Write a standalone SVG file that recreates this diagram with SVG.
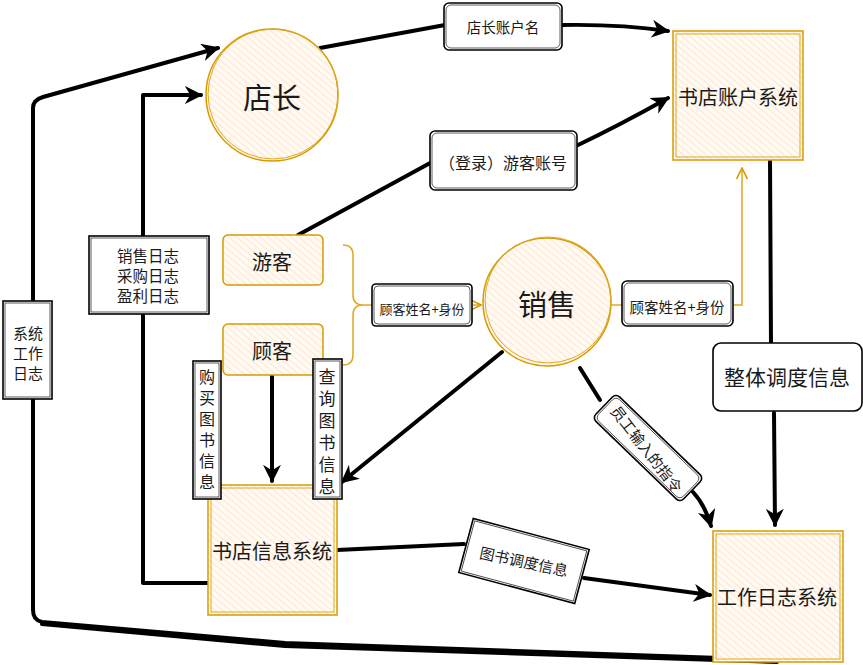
<svg xmlns="http://www.w3.org/2000/svg" width="863" height="665" viewBox="0 0 863 665">
<defs>
<pattern id="hatch" patternUnits="userSpaceOnUse" width="5" height="5" patternTransform="rotate(-50)">
<rect width="5" height="5" fill="#fffaf4"/>
<line x1="0" y1="0" x2="0" y2="5" stroke="#ffe2c2" stroke-width="1.6"/>
</pattern>
<marker id="arr" viewBox="0 0 10 10" refX="9" refY="5" markerWidth="4.5" markerHeight="4.5" orient="auto" markerUnits="strokeWidth">
<path d="M0 0 L10 5 L0 10 L3 5 Z" fill="#000"/>
</marker>
<marker id="oarr" viewBox="0 0 10 10" refX="9" refY="5" markerWidth="9" markerHeight="9" orient="auto" markerUnits="strokeWidth">
<path d="M1 1 L9 5 L1 9" fill="none" stroke="#d79b00" stroke-width="1.2"/>
</marker>
</defs>
<style>
text{font-family:"Noto Sans CJK SC","Noto Sans",sans-serif;fill:#1a1a1a;text-anchor:middle;dominant-baseline:central}
.v{writing-mode:vertical-rl;text-orientation:upright;dominant-baseline:auto}
.sys{fill:url(#hatch);stroke:#d79b00;stroke-width:1.5}
.sys2{fill:none;stroke:#e0a820;stroke-width:1}
.lbl{fill:#fff;stroke:#000;stroke-width:1.6}
.lbl2{fill:none;stroke:#333;stroke-width:0.8}
.c{fill:none;stroke:#000;stroke-width:4;stroke-linecap:round;stroke-linejoin:round}
.o{fill:none;stroke:#e0a820;stroke-width:1.5}
</style>
<g id="connectors">
<path class="c" d="M777 660 L285 643 L42 622 Q33 620 33 610 L33 108 Q33 100 43 97 L218 48" marker-end="url(#arr)"/>
<path class="c" d="M777 662 L285 646 L42 624" stroke-width="2.5"/>
<path class="c" d="M208 583 L143 583 L143 95 L201 95" marker-end="url(#arr)"/>
<path class="c" d="M320 48 L445 25"/>
<path class="c" d="M562 25 Q620 24 668 31" marker-end="url(#arr)"/>
<path class="c" d="M298 235 L432 162" stroke-width="3"/>
<path class="c" d="M576 146 Q620 125 668 98" marker-end="url(#arr)"/>
<path class="c" d="M770 160 L771 345"/>
<path class="c" d="M774 413 L775 525" marker-end="url(#arr)"/>
<path class="c" d="M272 376 L272 481" marker-end="url(#arr)"/>
<path class="c" d="M502 352 L342 482" marker-end="url(#arr)"/>
<path class="c" d="M580 368 L600 400"/>
<path class="c" d="M693 492 Q705 505 711 526" marker-end="url(#arr)"/>
<path class="c" d="M337 550 L464 544"/>
<path class="c" d="M584 578 L710 595" marker-end="url(#arr)"/>
<path class="o" d="M343 245 Q353 245 353 255 L353 295 Q353 305 363 305 Q353 305 353 315 L353 355 Q353 365 343 365"/>
<path class="o" d="M363 305 L372 305"/>
<path class="o" d="M473 305 L481 305" marker-end="url(#oarr)"/>
<path class="o" d="M582 305 L622 305"/>
<path class="o" d="M734 305 L742 305 L742 168" marker-end="url(#oarr)"/>
</g>
<g id="dianzhang">
<circle class="sys" cx="272" cy="95" r="66"/>
<circle class="sys2" cx="273" cy="94" r="65"/>
<text x="272" y="96" font-size="29">店长</text>
</g>
<g id="xiaoshou">
<circle class="sys" cx="547" cy="302" r="64"/>
<circle class="sys2" cx="548" cy="300" r="63"/>
<text x="547" y="303" font-size="29">销售</text>
</g>
<g id="shudian-zhanghu">
<rect class="sys" x="673" y="31" width="130" height="129"/>
<rect class="sys2" x="676" y="34" width="124" height="123"/>
<text x="738" y="96" font-size="20">书店账户系统</text>
</g>
<g id="shudian-xinxi">
<rect class="sys" x="208" y="485" width="129" height="130"/>
<rect class="sys2" x="211" y="488" width="123" height="124"/>
<text x="272" y="550" font-size="20">书店信息系统</text>
</g>
<g id="gongzuo-rizhi">
<rect class="sys" x="713" y="531" width="130" height="131"/>
<rect class="sys2" x="716" y="534" width="124" height="125"/>
<text x="777" y="596" font-size="20">工作日志系统</text>
</g>
<g id="youke">
<rect class="sys" x="223" y="235" width="100" height="50" rx="5"/>
<text x="272" y="261" font-size="20">游客</text>
</g>
<g id="guke">
<rect class="sys" x="223" y="324" width="100" height="51" rx="5"/>
<text x="272" y="350" font-size="20">顾客</text>
</g>
<g id="l-dianzhang-zhanghu">
<rect class="lbl" x="444" y="3" width="118" height="47" rx="5"/>
<rect class="lbl2" x="446" y="5" width="114" height="43" rx="5"/>
<text x="503" y="26" font-size="14.5">店长账户名</text>
</g>
<g id="l-denglu">
<rect class="lbl" x="430" y="131" width="147" height="59" rx="5"/>
<rect class="lbl2" x="432" y="133" width="143" height="55" rx="5"/>
<text x="503" y="162" font-size="16">（登录）游客账号</text>
</g>
<g id="l-guke-left">
<rect class="lbl" x="372" y="284" width="100" height="42" rx="4"/>
<rect class="lbl2" x="374" y="286" width="96" height="38" rx="4"/>
<text x="422" y="308" font-size="13">顾客姓名+身份</text>
</g>
<g id="l-guke-right">
<rect class="lbl" x="622" y="281" width="111" height="45" rx="5"/>
<rect class="lbl2" x="624" y="283" width="107" height="41" rx="5"/>
<text x="677" y="306" font-size="14.5">顾客姓名+身份</text>
</g>
<g id="l-zhengti">
<rect class="lbl" x="713" y="343" width="149" height="68" rx="8"/>
<text x="787" y="376" font-size="21">整体调度信息</text>
</g>
<g id="l-rizhi3">
<rect class="lbl" x="89" y="236" width="120" height="78"/>
<rect class="lbl2" x="91" y="238" width="116" height="74"/>
<text x="148" y="255" font-size="15.5"><tspan x="148" y="255">销售日志</tspan><tspan x="148" y="275">采购日志</tspan><tspan x="148" y="295">盈利日志</tspan></text>
</g>
<g id="l-xitong">
<rect class="lbl" x="3" y="301" width="49" height="98"/>
<rect class="lbl2" x="5" y="303" width="45" height="94"/>
<text x="28" y="332" font-size="15"><tspan x="28" y="332">系统</tspan><tspan x="28" y="352">工作</tspan><tspan x="28" y="372">日志</tspan></text>
</g>
<g id="l-goumai">
<rect class="lbl" x="193" y="361" width="28" height="138"/>
<rect class="lbl2" x="195" y="363" width="24" height="134"/>
<text class="v" x="207" y="432" font-size="16" letter-spacing="5">购买图书信息</text>
</g>
<g id="l-chaxun">
<rect class="lbl" x="313" y="359" width="29" height="140"/>
<rect class="lbl2" x="315" y="361" width="25" height="136"/>
<text class="v" x="327" y="434" font-size="17" letter-spacing="5">查询图书信息</text>
</g>
<g id="l-yuangong" transform="translate(648 448) rotate(44)">
<rect class="lbl" x="-61" y="-17" width="122" height="34" rx="5"/>
<rect class="lbl2" x="-59" y="-15" width="118" height="30" rx="5"/>
<text x="0" y="1" font-size="15" transform="rotate(8)">员工输入的指令</text>
</g>
<g id="l-tushu" transform="translate(524 561) rotate(15)">
<rect class="lbl" x="-60" y="-28" width="120" height="56"/>
<rect class="lbl2" x="-58" y="-26" width="116" height="52"/>
<text x="0" y="0" font-size="15" transform="rotate(-3)">图书调度信息</text>
</g>
</svg>
